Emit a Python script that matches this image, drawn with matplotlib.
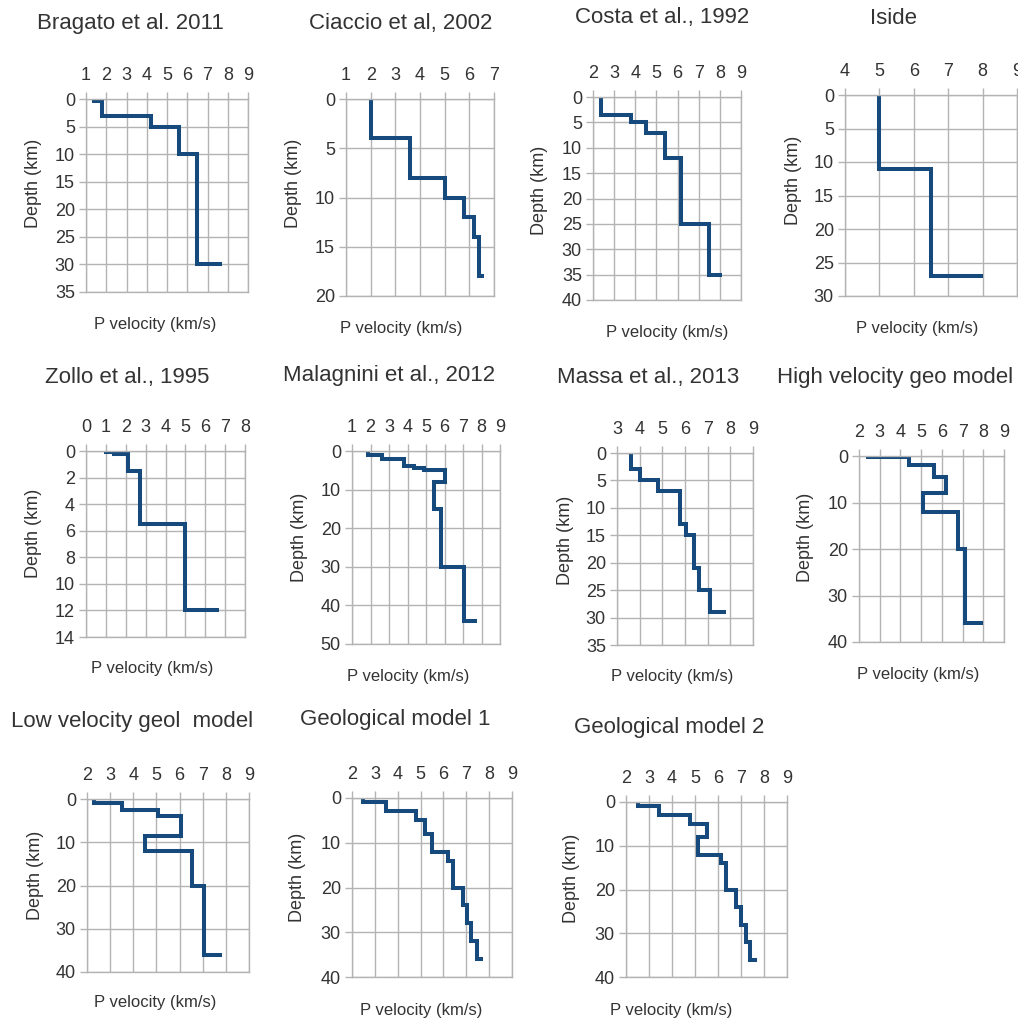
import matplotlib
matplotlib.use("Agg")
import matplotlib.pyplot as plt
import numpy as np

plt.rcParams['font.family'] = ['Liberation Sans', 'DejaVu Sans']

# ---- data: layer velocities (km/s) and top depths (km); last entry = half-space ----
titles = ["Bragato et al. 2011", "Ciaccio et al, 2002", "Costa et al., 1992", "Iside",
          "Zollo et al., 1995", "Malagnini et al., 2012", "Massa et al., 2013", "High velocity geo model",
          "Low velocity geol  model", "Geological model 1", "Geological model 2"]

bragato_v = [1.4, 1.8, 4.2, 5.6, 6.5, 7.7]
bragato_z = [0, 0.4, 3, 5, 10, 30]
ciaccio_v = [2.0, 3.6, 5.0, 5.8, 6.2, 6.4, 6.6]
ciaccio_z = [0, 4, 8, 10, 12, 14, 18]
costa_v = [2.4, 3.8, 4.5, 5.4, 6.15, 7.5, 8.1]
costa_z = [0, 3.5, 5, 7, 12, 25, 35]
iside_v = [5.0, 6.5, 8.0]
iside_z = [0, 11, 27]
zollo_v = [1.0, 1.4, 2.1, 2.7, 5.0, 6.7]
zollo_z = [0, 0.05, 0.25, 1.5, 5.5, 12]
malagnini_v = [1.85, 2.6, 3.8, 4.35, 4.9, 6.0, 5.45, 5.8, 7.05, 7.75]
malagnini_z = [0, 1, 2, 4, 4.5, 5, 8, 15, 30, 44]
massa_v = [3.6, 4.0, 4.8, 5.8, 6.05, 6.4, 6.6, 7.1, 7.8]
massa_z = [0, 3, 5, 7, 13, 15, 21, 25, 29]
high_v = [2.45, 4.4, 5.6, 6.2, 5.1, 6.8, 7.1, 8.0]
high_z = [0, 0.3, 2, 4.5, 8, 12, 20, 36]
low_v = [2.3, 3.5, 5.05, 6.05, 4.5, 6.55, 7.05, 7.85]
low_z = [0, 1, 2.5, 4, 8.5, 12, 20, 36]
geo1_v = [2.5, 3.5, 4.8, 5.2, 5.5, 6.2, 6.4, 6.85, 7.05, 7.2, 7.45, 7.75]
geo1_z = [0, 1, 3, 5, 8, 12, 14, 20, 24, 28, 32, 36]
geo2_v = [2.5, 3.45, 4.8, 5.5, 5.15, 6.15, 6.35, 6.8, 7.0, 7.2, 7.4, 7.7]
geo2_z = [0, 1, 3, 5, 8, 12, 14, 20, 24, 28, 32, 36]

velocities = [bragato_v, ciaccio_v, costa_v, iside_v, zollo_v, malagnini_v, massa_v,
              high_v, low_v, geo1_v, geo2_v]
depths = [bragato_z, ciaccio_z, costa_z, iside_z, zollo_z, malagnini_z, massa_z,
          high_z, low_z, geo1_z, geo2_z]

x_ranges = [(1, 9), (1, 7), (2, 9), (4, 9), (0, 8), (1, 9), (3, 9), (2, 9), (2, 9), (2, 9), (2, 9)]
y_ranges = [(0, 35, 5), (0, 20, 5), (0, 40, 5), (0, 30, 5), (0, 14, 2), (0, 50, 10),
            (0, 35, 5), (0, 40, 10), (0, 40, 10), (0, 40, 10), (0, 40, 10)]

# ---- layout in pixels ----
W, H = 1018, 1019
# axes box: left, top, right, bottom
boxes = [(86, 99, 248, 292), (346, 99, 494, 296), (593, 97, 741, 300), (845, 95, 1017, 296),
         (86, 451, 245, 637), (352, 451, 500, 644), (617, 453, 753, 645), (859, 456, 1004, 642),
         (87, 799, 249, 972), (352, 798, 512, 977), (626, 802, 787, 977)]
title_pos = [(130, 23), (401, 23), (662, 18), (894, 18),
             (127, 377), (389, 375), (648, 377), (895, 377),
             (132, 722), (395, 720), (669, 728)]
xlabel_pos = [(155, 325), (401, 328), (667, 333), (917, 329),
              (152, 669), (408, 676), (672, 677), (918, 675),
              (155, 1003), (421, 1011), (671, 1010)]
ylabel_pos = [(34, 183), (293, 183), (540, 190), (793, 180),
              (34, 533), (300, 537), (565, 540), (805, 537),
              (35, 875), (298, 877), (572, 878)]

line_color = '#174a7c'
grid_color = '#b3b3b3'
text_color = '#333333'

fig = plt.figure(figsize=(W / 100, H / 100), dpi=100)
fig.patch.set_facecolor('white')

for i in range(len(titles)):
    l, t, r, b = boxes[i]
    ax = fig.add_axes([l / W, 1 - b / H, (r - l) / W, (b - t) / H])
    ax.plot(velocities[i], depths[i], drawstyle='steps-pre', color=line_color,
            lw=2.9, solid_joinstyle='miter', solid_capstyle='butt')
    x0, x1 = x_ranges[i]
    y0, y1, ys = y_ranges[i]
    ax.set_xlim(x0, x1)
    ax.set_ylim(y1, y0)
    ax.set_xticks(np.arange(x0, x1 + 1, 1))
    ax.set_yticks(np.arange(y0, y1 + ys, ys))
    ax.xaxis.tick_top()
    ax.tick_params(axis='both', length=5, width=1, color=grid_color, labelsize=13,
                   labelcolor=text_color)
    ax.tick_params(axis='x', pad=6)
    ax.tick_params(axis='y', pad=3)
    ax.grid(True, color=grid_color, lw=1)
    ax.set_axisbelow(True)
    for s in ax.spines.values():
        s.set_color(grid_color)
        s.set_linewidth(1)
    fig.text(title_pos[i][0] / W, 1 - title_pos[i][1] / H, titles[i], ha='center', va='center',
             fontsize=16, color=text_color)
    fig.text(xlabel_pos[i][0] / W, 1 - xlabel_pos[i][1] / H, "P velocity (km/s)", ha='center',
             va='center', fontsize=12, color=text_color)
    fig.text(ylabel_pos[i][0] / W, 1 - ylabel_pos[i][1] / H, "Depth (km)", ha='center',
             va='center', fontsize=13, color=text_color, rotation=90)

fig.savefig('out.png', dpi=100, facecolor='white')
